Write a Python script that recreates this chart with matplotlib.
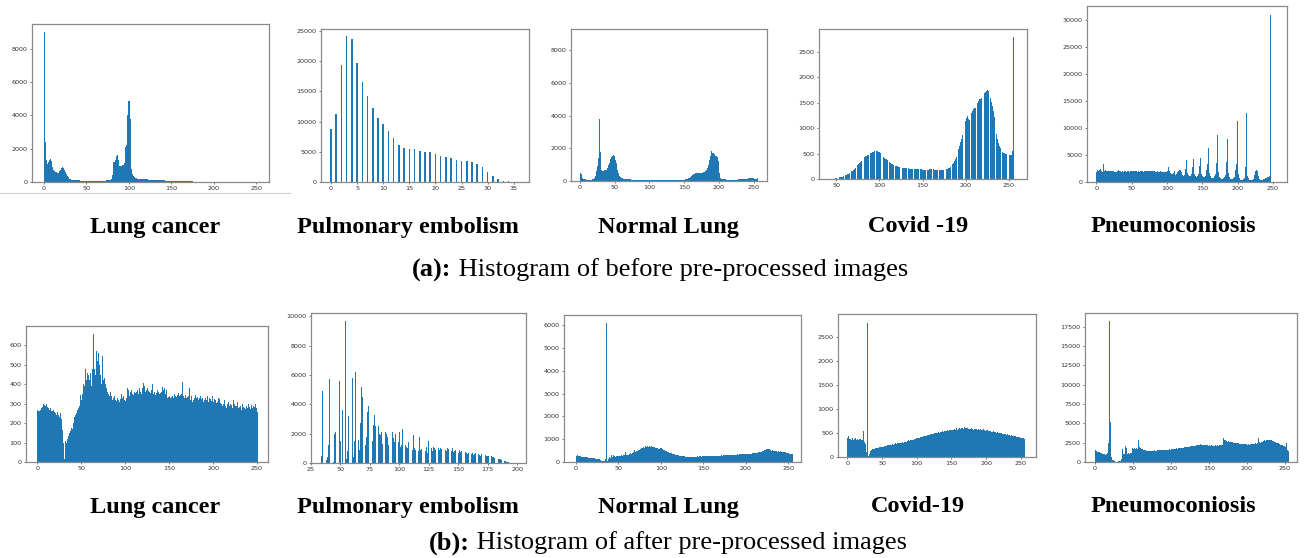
import matplotlib
matplotlib.use("Agg")
import matplotlib.pyplot as plt
import numpy as np

# pixel counts per grey level
lung_before = [
    9000, 2400, 1600, 1300, 1100, 1200, 1350, 1400, 1250, 1100, 900, 700, 650, 620, 600, 550,
    520, 560, 650, 750, 820, 880, 900, 820, 700, 600, 480, 380, 300, 240, 200, 170,
    150, 140, 130, 120, 115, 110, 105, 100, 100, 95, 95, 90, 90, 90, 85, 85,
    85, 80, 80, 80, 75, 75, 75, 70, 70, 70, 70, 70, 65, 65, 70, 70,
    70, 70, 75, 75, 80, 80, 85, 90, 90, 95, 100, 110, 120, 130, 150, 200,
    400, 1200, 1250, 1200, 1350, 1550, 1600, 1300, 1000, 950, 950, 980, 1000, 1050, 1150, 1300,
    2100, 2200, 4000, 4900, 4900, 3800, 1500, 800, 500, 350, 280, 250, 230, 220, 210, 200,
    200, 190, 190, 185, 180, 180, 175, 170, 165, 160, 155, 150, 150, 145, 140, 140,
    135, 130, 130, 125, 120, 120, 115, 110, 110, 105, 100, 100, 95, 95, 90, 90,
    85, 85, 80, 80, 75, 75, 70, 70, 68, 66, 64, 62, 60, 58, 56, 55,
    54, 52, 50, 48, 46, 45, 44, 42, 40, 40, 38, 36, 35, 34, 32, 30,
    30, 28, 28, 26, 25, 25, 24, 22, 22, 20, 20, 18, 18, 30, 16, 15,
    14, 14, 13, 12, 12, 11, 10, 10, 9, 9, 8, 8, 8, 7, 7, 7,
    6, 6, 6, 6, 5, 5, 5, 5, 5, 4, 4, 4, 4, 4, 3, 3,
    3, 3, 3, 3, 3, 3, 2, 2, 2, 2, 2, 2, 2, 2, 2, 2,
    2, 2, 1, 1, 1, 1, 1, 1, 1, 1, 1, 1, 1, 1, 1, 1]

pe_before = [8800, 11200, 19400, 24100, 23700, 19600, 16600, 14300, 12200, 10600,
             9600, 8500, 7300, 6200, 5700, 5500, 5400, 5200, 5000, 4900,
             4700, 4300, 4100, 3900, 3600, 3500, 3400, 3300, 3000, 2400,
             1600, 1000, 500, 150, 150, 50]

normal_before = [
    8800, 500, 400, 300, 200, 150, 120, 100, 100, 90, 90, 90, 85, 85, 80, 80,
    85, 90, 100, 120, 150, 200, 300, 450, 600, 900, 1400, 700, 3800, 1800, 900, 700,
    600, 550, 600, 700, 1200, 650, 700, 800, 900, 1000, 1100, 1250, 1350, 1450, 1500, 1550,
    1600, 1550, 1450, 1300, 1100, 900, 700, 500, 380, 300, 250, 200, 180, 160, 150, 140,
    130, 120, 115, 110, 105, 100, 100, 95, 95, 90, 90, 85, 85, 80, 80, 75,
    75, 70, 70, 70, 65, 65, 60, 60, 60, 55, 55, 55, 50, 50, 50, 50,
    45, 45, 45, 45, 45, 40, 40, 40, 40, 40, 40, 40, 38, 38, 38, 38,
    36, 36, 36, 36, 35, 35, 35, 35, 35, 35, 35, 35, 35, 35, 35, 35,
    35, 36, 36, 37, 38, 38, 40, 40, 42, 42, 45, 45, 48, 50, 52, 55,
    58, 60, 65, 70, 75, 80, 90, 100, 110, 120, 140, 160, 180, 200, 230, 260,
    300, 340, 380, 420, 450, 480, 500, 500, 490, 480, 470, 470, 480, 490, 500, 510,
    520, 540, 560, 580, 600, 650, 700, 800, 950, 1100, 1300, 1500, 1900, 1850, 1700, 3200,
    1700, 1650, 1600, 1550, 1500, 1450, 1200, 1200, 500, 300, 200, 150, 120, 110, 100, 100,
    95, 95, 90, 90, 90, 85, 85, 85, 80, 80, 80, 80, 80, 80, 80, 80,
    85, 85, 90, 90, 95, 95, 100, 100, 105, 110, 115, 120, 125, 130, 135, 140,
    150, 160, 170, 180, 190, 200, 200, 190, 180, 170, 160, 150, 140, 130, 120, 200]

# covid (before) starts at grey level 47
covid_before_start = 47
covid_before = [
    5, 8, 10, 15, 18, 20, 25, 30,
    35, 40, 45, 50, 55, 60, 70, 80, 90, 100,
    110, 120, 135, 150, 165, 180, 200, 220, 240, 255,
    270, 290, 310, 330, 350, 370, 390, 410, 430, 450,
    460, 470, 480, 490, 500, 510, 520, 530, 540, 545,
    550, 555, 550, 545, 540, 530, 520, 500, 480, 460,
    440, 420, 400, 385, 370, 355, 340, 325, 310, 300,
    290, 280, 270, 265, 260, 255, 250, 245, 240, 235,
    230, 228, 225, 222, 220, 218, 215, 212, 210, 208,
    205, 203, 200, 200, 198, 196, 195, 194, 193, 192,
    190, 190, 189, 188, 187, 186, 185, 185, 185, 185,
    185, 185, 186, 187, 188, 189, 190, 190, 188, 186,
    184, 182, 180, 178, 176, 175, 174, 175, 176, 178,
    180, 185, 190, 195, 200, 210, 220, 235, 250, 270,
    290, 320, 350, 390, 430, 480, 530, 590, 650, 720,
    790, 860, 930, 1000, 1070, 1140, 1200, 1230, 1180, 1160,
    1200, 1250, 1300, 1340, 1370, 1390, 1400, 1420, 1450, 1500,
    1540, 1570, 1580, 1590, 1600, 1630, 1660, 1700, 1720, 1740,
    1750, 1730, 1700, 1660, 1600, 1520, 1430, 1330, 1220, 1100,
    990, 880, 780, 700, 640, 600, 580, 560, 540, 520,
    510, 500, 495, 490, 485, 480, 480, 478, 475, 560,
    2800]

pneumo_before = [
    1800, 2300, 2100, 2000, 2200, 2500, 2400, 2000, 1900, 2100, 3400, 2000, 1800, 2300, 2000, 1900,
    1950, 2000, 1950, 1900, 2000, 1950, 1900, 1950, 2000, 1900, 1850, 1800, 1900, 2000, 2050, 2200,
    2100, 2000, 1950, 1900, 1950, 2000, 1900, 1950, 2000, 1950, 1900, 2000, 2100, 2000, 1950, 1900,
    2000, 2100, 2200, 2100, 2000, 1950, 2000, 2050, 2000, 1950, 1900, 2000, 1950, 1900, 2000, 2050,
    2000, 1950, 1900, 1950, 2000, 2050, 2000, 2100, 2000, 1950, 2000, 2050, 1950, 2000, 2050, 2000,
    1950, 2000, 1950, 1900, 1850, 1900, 2000, 1950, 1900, 1850, 1900, 1950, 1900, 1850, 1800, 1900,
    1850, 1800, 1850, 1900, 2000, 2200, 2700, 2100, 1900, 1700, 1500, 1400, 1300, 1600, 2000, 1500,
    1300, 1500, 1700, 1800, 2000, 2300, 3200, 2200, 1800, 1500, 1300, 1200, 1300, 1700, 2400, 4100,
    2300, 1600, 1300, 1200, 1100, 1200, 1500, 2000, 2800, 4200, 2500, 1500, 1200, 1000, 1000, 1100,
    1400, 2000, 3000, 4400, 2600, 1500, 1100, 900, 900, 1000, 1200, 1600, 2300, 3400, 6300, 3200,
    1700, 1100, 850, 750, 750, 800, 900, 1100, 1500, 2300, 3600, 8700, 3400, 1800, 1000, 750,
    650, 600, 600, 650, 700, 900, 1300, 2000, 3700, 8000, 3400, 1600, 900, 650, 550, 500,
    500, 550, 650, 900, 1400, 2200, 3300, 11300, 3100, 1500, 800, 550, 450, 400, 400, 450,
    550, 800, 1300, 2800, 12800, 2600, 1200, 650, 450, 380, 350, 350, 380, 450, 600, 850,
    1300, 2000, 2200, 20200, 2100, 1100, 650, 500, 450, 420, 420, 450, 500, 550, 620, 700,
    780, 850, 900, 950, 1000, 1100, 30900, 200, 0, 0, 0, 0, 0, 0, 0, 0]

lung_after = [
    270, 260, 265, 270, 280, 285, 290, 300, 295, 290, 300, 285, 280, 275, 270, 280,
    265, 260, 270, 255, 250, 245, 240, 255, 240, 230, 250, 220, 175, 165, 100, 15,
    110, 100, 120, 140, 135, 150, 160, 175, 170, 200, 220, 230, 240, 250, 270, 280,
    290, 300, 345, 320, 350, 400, 390, 480, 420, 470, 460, 450, 420, 460, 390, 480,
    400, 660, 480, 450, 570, 520, 560, 430, 500, 450, 400, 545, 420, 430, 630, 400,
    380, 360, 350, 340, 360, 330, 340, 320, 330, 340, 320, 315, 330, 340, 320, 310,
    325, 350, 330, 340, 355, 320, 315, 330, 380, 370, 340, 330, 360, 370, 350, 345,
    360, 355, 340, 360, 370, 350, 380, 360, 350, 370, 380, 405, 390, 360, 370, 380,
    365, 370, 360, 355, 370, 400, 350, 360, 340, 345, 355, 370, 360, 350, 355, 370,
    360, 385, 370, 380, 350, 370, 340, 330, 335, 340, 330, 335, 340, 345, 330, 350,
    340, 335, 345, 355, 340, 330, 345, 350, 410, 340, 330, 345, 400, 330, 335, 340,
    380, 320, 340, 330, 310, 320, 330, 345, 330, 335, 355, 320, 330, 340, 325, 330,
    310, 320, 335, 330, 320, 340, 310, 330, 325, 320, 315, 340, 310, 325, 320, 305,
    300, 310, 330, 325, 305, 300, 290, 295, 300, 320, 290, 280, 300, 310, 285, 290,
    300, 295, 280, 320, 300, 290, 270, 290, 310, 280, 285, 290, 270, 280, 300, 285,
    280, 275, 290, 280, 270, 300, 285, 275, 295, 280, 290, 270, 285, 300, 280, 255]

# pulmonary embolism (after) starts at grey level 33
pe_after_start = 33
pe_after = [
    0, 500, 4900, 3300, 0, 200, 400, 1200, 5700, 3600, 0, 100, 2000, 2100, 5100, 6100,
    5600, 1500, 0, 3600, 9000, 9700, 300, 800, 3200, 6700, 7000, 5800, 400, 1500, 6200, 5500,
    1600, 900, 2700, 5200, 4500, 3200, 1200, 1800, 3500, 3900, 3400, 2400, 1500, 2600, 3300, 2500,
    2600, 2500, 2000, 1900, 2100, 1300, 2200, 2100, 2000, 1800, 1200, 1000, 2000, 2100, 1700, 1400,
    2000, 1800, 1400, 2100, 1100, 1200, 2300, 1300, 1200, 1100, 1000, 1400, 1300, 1000, 900, 1900,
    1000, 900, 1200, 800, 1800, 900, 950, 1000, 1200, 800, 1100, 700, 1500, 900, 1000, 800,
    1100, 1000, 900, 1100, 1050, 900, 1000, 950, 850, 1000, 900, 800, 1000, 950, 800, 850,
    1000, 750, 850, 900, 800, 700, 900, 750, 800, 700, 650, 750, 700, 600, 700, 650,
    600, 700, 550, 600, 650, 500, 600, 550, 500, 600, 450, 500, 550, 450, 500, 450,
    400, 450, 400, 380, 350, 400, 320, 300, 300, 260, 220, 180, 150, 120, 100, 80,
    60, 45, 30, 20, 10, 5, 2]

normal_after = [
    280, 300, 290, 270, 260, 250, 240, 230, 225, 220, 215, 210, 205, 200, 195, 190,
    185, 180, 175, 170, 165, 160, 155, 150, 145, 140, 130, 120, 100, 60, 40, 30,
    40, 50, 120, 2500, 6100, 50, 150, 200, 180, 300, 250, 220, 300, 250, 240, 260,
    270, 250, 280, 260, 270, 300, 280, 260, 290, 300, 420, 300, 310, 320, 340, 360,
    380, 350, 400, 430, 520, 560, 450, 470, 500, 520, 540, 560, 580, 600, 620, 650,
    620, 700, 650, 680, 720, 680, 700, 650, 760, 700, 680, 650, 640, 620, 600, 580,
    600, 580, 560, 620, 600, 570, 550, 540, 520, 500, 480, 460, 440, 420, 400, 390,
    380, 370, 360, 350, 330, 320, 310, 300, 290, 280, 270, 260, 260, 250, 250, 245,
    240, 240, 235, 235, 230, 230, 230, 235, 230, 240, 235, 230, 240, 235, 240, 245,
    240, 245, 250, 240, 245, 250, 255, 250, 245, 250, 255, 260, 255, 250, 260, 255,
    260, 265, 260, 270, 265, 270, 275, 270, 280, 285, 280, 290, 285, 290, 295, 300,
    295, 300, 305, 300, 310, 305, 310, 315, 310, 320, 315, 320, 325, 320, 330, 325,
    330, 335, 330, 340, 335, 340, 345, 350, 345, 350, 360, 355, 360, 370, 365, 380,
    375, 380, 390, 400, 395, 410, 420, 430, 440, 450, 460, 470, 480, 500, 520, 540,
    560, 580, 570, 560, 540, 520, 500, 510, 490, 480, 500, 470, 480, 460, 470, 450,
    480, 460, 450, 440, 460, 430, 420, 400, 410, 380, 390, 370, 360, 350, 340, 330]

covid_after = [
    400, 430, 360, 370, 380, 360, 370, 390, 360, 380, 370, 400, 360, 350, 370, 380,
    360, 370, 380, 340, 360, 350, 300, 550, 320, 310, 280, 100, 20, 2800, 20, 60,
    80, 120, 140, 150, 160, 165, 170, 175, 180, 185, 180, 190, 195, 190, 200, 205,
    200, 210, 215, 220, 210, 225, 230, 225, 235, 240, 245, 240, 250, 255, 260, 250,
    265, 270, 260, 280, 275, 285, 280, 290, 285, 295, 290, 300, 295, 305, 300, 310,
    300, 315, 310, 320, 330, 320, 340, 330, 345, 340, 350, 345, 360, 355, 370, 360,
    375, 380, 370, 390, 385, 400, 395, 410, 400, 420, 410, 430, 420, 440, 430, 445,
    440, 450, 445, 460, 455, 465, 460, 470, 475, 470, 480, 485, 480, 490, 500, 495,
    505, 500, 510, 515, 505, 520, 525, 515, 530, 535, 525, 540, 545, 535, 550, 545,
    555, 550, 560, 555, 565, 560, 570, 560, 580, 570, 590, 560, 580, 600, 570, 590,
    580, 600, 575, 590, 610, 580, 600, 590, 620, 585, 600, 610, 590, 605, 580, 600,
    590, 575, 600, 580, 590, 570, 585, 575, 580, 565, 575, 560, 570, 580, 560, 575,
    565, 555, 570, 560, 580, 555, 565, 545, 560, 550, 555, 540, 550, 535, 545, 530,
    540, 525, 535, 520, 530, 515, 520, 505, 515, 500, 510, 495, 500, 490, 495, 480,
    490, 475, 485, 470, 480, 465, 470, 455, 460, 450, 455, 445, 450, 440, 445, 430,
    440, 425, 430, 420, 425, 410, 420, 405, 410, 400, 405, 395, 400, 390, 385, 380]

pneumo_after = [
    1500, 1400, 1380, 1350, 1300, 1280, 1250, 1200, 1150, 1100, 1080, 1050, 1000, 950, 900, 1000,
    1200, 2500, 5500, 18300, 5200, 600, 400, 300, 200, 100, 50, 40, 30, 40, 50, 80,
    100, 150, 250, 400, 1700, 1000, 1100, 1600, 2100, 1800, 1100, 1000, 1200, 1100, 1200, 1300,
    1200, 1800, 1700, 2500, 1800, 1700, 1800, 1900, 1700, 2800, 2000, 1900, 1800, 1700, 1650, 1600,
    1550, 1500, 1500, 1450, 1450, 1400, 1400, 1380, 1400, 1420, 1400, 1450, 1430, 1480, 1500, 1450,
    1500, 1480, 1520, 1500, 1550, 1520, 1500, 1560, 1530, 1580, 1550, 1600, 1570, 1620, 1600, 1580,
    1600, 1620, 1650, 1600, 1640, 1680, 1650, 1700, 1680, 1720, 1700, 1750, 1730, 1780, 1800, 1760,
    1800, 1850, 1820, 1870, 1850, 1900, 1880, 1930, 1900, 1950, 1980, 1950, 2000, 2020, 2000, 2050,
    2080, 2050, 2100, 2120, 2080, 2150, 2100, 2180, 2150, 2200, 2250, 2300, 2200, 2180, 2150, 2200,
    2180, 2150, 2200, 2170, 2150, 2120, 2150, 2100, 2130, 2150, 2100, 2120, 2080, 2100, 2150, 2120,
    2130, 2150, 2100, 2160, 2140, 2180, 2150, 2200, 2400, 3100, 2900, 2800, 2700, 2750, 2650, 2700,
    2650, 2600, 2620, 2580, 2550, 2560, 2500, 2520, 2480, 2450, 2420, 2400, 2380, 2400, 2350, 2330,
    2350, 2300, 2320, 2280, 2300, 2260, 2300, 2280, 2250, 2300, 2270, 2250, 2300, 2320, 2280, 2300,
    2350, 2300, 2380, 2400, 2350, 2450, 2500, 3100, 2600, 2500, 2550, 2600, 2650, 2700, 2750, 2800,
    2750, 2800, 2850, 2900, 2850, 2800, 2900, 2850, 2800, 2750, 2800, 2700, 2650, 2600, 2550, 2500,
    2450, 2400, 2350, 2300, 2250, 2200, 2150, 2200, 2100, 2050, 2000, 2100, 2400, 1500, 1400, 0]

labels_top = ["Lung cancer", "Pulmonary embolism", "Normal Lung", "Covid -19", "Pneumoconiosis"]
labels_bottom = ["Lung cancer", "Pulmonary embolism", "Normal Lung", "Covid-19", "Pneumoconiosis"]
label_x = [155, 408, 668, 918, 1173]

W, H = 1304, 558
BLUE = "#1f77b4"

fig = plt.figure(figsize=(W / 100, H / 100), dpi=100)


def px_axes(l, t, r, b):
    return fig.add_axes([l / W, 1 - b / H, (r - l) / W, (b - t) / H])


def hist_panel(box, counts, start, step, width, xlim, ylim, xticks, yticks):
    ax = px_axes(*box)
    x = start + np.arange(len(counts)) * step
    ax.bar(x, counts, width=width, align="edge", color=BLUE, linewidth=0)
    ax.set_xlim(*xlim)
    ax.set_ylim(*ylim)
    ax.set_xticks(xticks)
    ax.set_yticks(yticks)
    ax.tick_params(labelsize=4.6, length=1.5, width=0.5, pad=1.5,
                   colors="#444444", labelcolor="#333333")
    for s in ax.spines.values():
        s.set_color("#8a8a8a")
        s.set_linewidth(0.9)
    return ax


g256 = range(0, 251, 50)

# top row: before pre-processing
hist_panel((32, 24, 269, 182), lung_before, 0, 1, 1, (-14, 265), (0, 9500), g256,
           range(0, 8001, 2000))
hist_panel((321, 29, 529, 182), pe_before, -0.15, 1, 0.3, (-1.9, 37.9), (0, 25300),
           range(0, 36, 5), range(0, 25001, 5000))
hist_panel((571, 29, 767, 181), normal_before, 0, 1, 1, (-12.5, 269), (0, 9300), g256,
           range(0, 8001, 2000))
hist_panel((819, 29, 1027, 179), covid_before, covid_before_start - 0.4, 1, 0.8, (30, 271),
           (0, 2950), g256[1:], range(0, 2501, 500))
hist_panel((1087, 6, 1287, 182), pneumo_before, 0, 1, 1, (-13, 270), (0, 32600), g256,
           range(0, 30001, 5000))

# bottom row: after pre-processing
hist_panel((26, 326, 268, 462), lung_after, 0, 251 / 256, 251 / 256, (-13, 262.5), (0, 700),
           g256, range(0, 601, 100))
hist_panel((311, 313, 526, 463), pe_after, pe_after_start - 0.3, 1, 0.65, (25, 207.6),
           (0, 10230), range(25, 201, 25), range(0, 10001, 2000))
hist_panel((564, 315, 801, 462), normal_after, 0, 1, 1, (-14, 265), (0, 6450), g256,
           range(0, 6001, 1000))
hist_panel((838, 314, 1036, 457), covid_after, 0, 1, 1, (-13.5, 272), (0, 2980), g256,
           range(0, 2501, 500))
hist_panel((1085, 313, 1297, 462), pneumo_after, 0, 1, 1, (-13, 266), (0, 19300), g256,
           range(0, 17501, 2500))

# thin grey rule under the first panel
fig.add_artist(plt.Line2D([0, 290 / W], [1 - 193 / H, 1 - 193 / H], color="#cfcfcf",
                          linewidth=0.8))

serif = "Liberation Serif"
for name, x in zip(labels_top, label_x):
    fig.text(x / W, 1 - 227 / H, name, ha="center", va="center", family=serif,
             weight="bold", fontsize=17.5)
for name, x in zip(labels_bottom, label_x):
    fig.text(x / W, 1 - 507 / H, name, ha="center", va="center", family=serif,
             weight="bold", fontsize=17.5)

renderer = fig.canvas.get_renderer()


def caption(tag, rest, cx, y):
    a = fig.text(0, 1 - y / H, tag, ha="left", va="center", family=serif,
                 weight="bold", fontsize=19)
    b = fig.text(0, 1 - y / H, rest, ha="left", va="center", family=serif,
                 fontsize=19)
    wa = a.get_window_extent(renderer).width
    wb = b.get_window_extent(renderer).width
    x0 = cx - (wa + wb) / 2
    a.set_x(x0 / W)
    b.set_x((x0 + wa) / W)


caption("(a):", " Histogram of before pre-processed images", 660, 270)
caption("(b):", " Histogram of after pre-processed images", 668, 543)

fig.savefig("out.png", dpi=100)
